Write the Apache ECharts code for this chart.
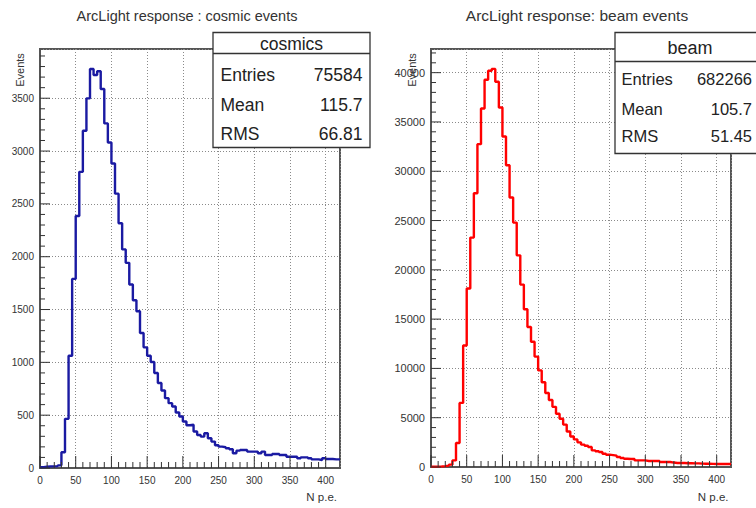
<!DOCTYPE html>
<html>
<head>
<meta charset="utf-8">
<script src="https://cdn.jsdelivr.net/npm/echarts@6/dist/echarts.min.js"></script>
<style>
  html, body { margin: 0; padding: 0; background: #fff; }
  #chart { width: 756px; height: 508px; }
</style>
</head>
<body>
<div id="chart"></div>
<script>
// Histogram binning (N p.e.)
const binWidth = 5;
const xMax = 420;

// Bin contents, 5 p.e. per bin starting at 0
const cosmicCounts = [
  8, 12, 15, 15, 18, 25, 149, 465, 1063, 1790,
  2385, 2803, 3192, 3499, 3777, 3720, 3755, 3587, 3262, 3081,
  2882, 2597, 2316, 2069, 1942, 1737, 1588, 1484, 1278, 1142,
  1063, 1003, 899, 804, 734, 661, 614, 582, 525, 487,
  440, 405, 410, 345, 313, 297, 329, 282, 250, 215,
  202, 196, 187, 177, 139, 164, 171, 171, 155, 155,
  155, 139, 155, 123, 123, 133, 133, 123, 123, 107,
  107, 107, 92, 101, 101, 92, 82, 82, 76, 92,
  85, 85, 82, 82
];
const beamCounts = [
  30, 40, 60, 90, 140, 240, 670, 2440, 6500, 12320,
  18100, 23270, 27770, 32750, 36370, 39280, 40200, 40380, 39080, 36470,
  33530, 30610, 27330, 24790, 21470, 18500, 16000, 14200, 12700, 11200,
  9800, 8600, 7500, 6800, 6100, 5400, 4900, 4300, 3600, 3100,
  2800, 2500, 2270, 2150, 2030, 1690, 1600, 1520, 1350, 1250,
  1200, 1150, 1020, 920, 840, 810, 810, 670, 670, 670,
  610, 610, 610, 610, 510, 510, 510, 450, 400, 400,
  400, 380, 380, 370, 370, 340, 335, 330, 320, 300,
  300, 300, 300, 300
];

// Axis ranges and tick spacing
const cosmicYMax = 3966;
const beamYMax = 42400;
const xMajor = 50, xMinor = 10;
const cosmicYMajor = 500, cosmicYMinor = 100;
const beamYMajor = 5000, beamYMinor = 1000;

// Text
const titles = ['ArcLight response : cosmic events', 'ArcLight response: beam events'];
const statNames = ['cosmics', 'beam'];
const statLabels = ['Entries', 'Mean', 'RMS'];
const cosmicStatValues = ['75584', '115.7', '66.81'];
const beamStatValues = ['682266', '105.7', '51.45'];
const yTitle = 'Events';
const xTitle = 'N p.e.';

const FONT = 'Liberation Sans, Arial, Helvetica, sans-serif';
const TEXT = '#333';
const FRAME = '#555';
const TICK = '#333';

// Left-edge points of each bin plus the closing edge, drawn as a step line
function binEdges(counts) {
  const pts = counts.map((v, i) => [i * binWidth, v]);
  pts.push([counts.length * binWidth, counts[counts.length - 1]]);
  return pts;
}

// Tick values from 0 up to the axis maximum
function tickValues(step, max) {
  const out = [];
  for (let v = 0; v <= max + 1e-9; v += step) out.push(v);
  return out;
}

const plainNumber = v => String(v);

const gridBox = [
  { left: 40, top: 49, width: 300, height: 419 },
  { left: 431, top: 49, width: 300, height: 418 }
];

function xAxisFor(gi) {
  return {
    gridIndex: gi, type: 'value', position: 'bottom', min: 0, max: xMax, interval: xMajor,
    axisLine: { show: true, lineStyle: { color: FRAME, width: 2 } },
    axisTick: { show: false },
    axisLabel: { margin: 7, fontSize: 10, color: TEXT, fontFamily: FONT, showMaxLabel: false,
                 formatter: plainNumber },
    splitLine: { show: true, lineStyle: { color: '#8a8a8a', width: 1, type: [1, 2] } }
  };
}

function yAxisFor(gi, yMax, major, labelSize) {
  return {
    gridIndex: gi, type: 'value', position: 'left', min: 0, max: yMax, interval: major,
    axisLine: { show: true, lineStyle: { color: FRAME, width: 2 } },
    axisTick: { show: false },
    axisLabel: { margin: 6, fontSize: labelSize, color: TEXT, fontFamily: FONT, showMaxLabel: false,
                 formatter: plainNumber },
    splitLine: { show: true, lineStyle: { color: '#8a8a8a', width: 1, type: [1, 2] } }
  };
}

// Inside tick marks along the bottom axis, placed through the x scale
function xTickSeries(gi) {
  return {
    type: 'custom', xAxisIndex: gi, yAxisIndex: gi, z: 20, silent: true, clip: false,
    data: tickValues(xMinor, 400).map(v => [v, 0]),
    renderItem: function (params, api) {
      const v = api.value(0);
      const p = api.coord([v, 0]);
      const len = (v % xMajor === 0) ? 12 : 6;
      return { type: 'line', shape: { x1: p[0], y1: p[1], x2: p[0], y2: p[1] - len },
               style: { stroke: TICK, lineWidth: 1 } };
    }
  };
}

// Inside tick marks along the left axis, placed through the y scale
function yTickSeries(gi, yMax, major, minor) {
  return {
    type: 'custom', xAxisIndex: gi, yAxisIndex: gi, z: 20, silent: true, clip: false,
    data: tickValues(minor, yMax).map(v => [0, v]),
    renderItem: function (params, api) {
      const v = api.value(1);
      const p = api.coord([0, v]);
      const len = (v % major === 0) ? 10 : 5;
      return { type: 'line', shape: { x1: p[0], y1: p[1], x2: p[0] + len, y2: p[1] },
               style: { stroke: TICK, lineWidth: 1 } };
    }
  };
}

function statsBox(x, y, w, h, headerH, name, values, headSize, rowSize, rowYs, labelX, valueX) {
  const els = [
    { type: 'rect', z: 100, shape: { x: x, y: y, width: w, height: h },
      style: { fill: '#fff', stroke: '#333', lineWidth: 1.3 } },
    { type: 'line', z: 101, shape: { x1: x, y1: y + headerH, x2: x + w, y2: y + headerH },
      style: { stroke: '#333', lineWidth: 1.3 } },
    { type: 'text', z: 102, x: x + w / 2, y: y + headerH / 2 + 1,
      style: { text: name, fill: '#222', font: headSize + 'px ' + FONT,
               align: 'center', verticalAlign: 'middle', textAlign: 'center', textVerticalAlign: 'middle' } }
  ];
  statLabels.forEach((lab, i) => {
    els.push({ type: 'text', z: 102, x: labelX, y: rowYs[i],
      style: { text: lab, fill: '#222', font: rowSize + 'px ' + FONT,
               align: 'left', verticalAlign: 'middle', textAlign: 'left', textVerticalAlign: 'middle' } });
    els.push({ type: 'text', z: 102, x: valueX, y: rowYs[i],
      style: { text: values[i], fill: '#222', font: rowSize + 'px ' + FONT,
               align: 'right', verticalAlign: 'middle', textAlign: 'right', textVerticalAlign: 'middle' } });
  });
  return els;
}

function plainText(x, y, text, size, align, rotation) {
  return { type: 'text', z: 50, x: x, y: y, rotation: rotation || 0,
    style: { text: text, fill: TEXT, font: size + 'px ' + FONT,
             align: align, verticalAlign: 'middle', textAlign: align, textVerticalAlign: 'middle' } };
}

const chart = echarts.init(document.getElementById('chart'), null, { renderer: 'svg' });

chart.setOption({
  animation: false,
  backgroundColor: '#fff',
  textStyle: { fontFamily: FONT },
  title: [
    { text: titles[0], left: 182, top: 3, textAlign: 'center',
      textStyle: { fontSize: 14.5, fontWeight: 'normal', color: TEXT, fontFamily: FONT } },
    { text: titles[1], left: 572, top: 2, textAlign: 'center',
      textStyle: { fontSize: 15.5, fontWeight: 'normal', color: TEXT, fontFamily: FONT } }
  ],
  grid: gridBox.map(g => Object.assign({
    show: true, borderColor: FRAME, borderWidth: 2, backgroundColor: 'transparent',
    containLabel: false, outerBoundsMode: 'none'
  }, g)),
  xAxis: [xAxisFor(0), xAxisFor(1)],
  yAxis: [yAxisFor(0, cosmicYMax, cosmicYMajor, 10), yAxisFor(1, beamYMax, beamYMajor, 11)],
  series: [
    xTickSeries(0), yTickSeries(0, cosmicYMax, cosmicYMajor, cosmicYMinor),
    xTickSeries(1), yTickSeries(1, beamYMax, beamYMajor, beamYMinor),
    { name: statNames[0], type: 'line', xAxisIndex: 0, yAxisIndex: 0, step: 'end',
      showSymbol: false, symbol: 'none', clip: false, z: 10,
      lineStyle: { color: '#1a1aa2', width: 2.4 }, data: binEdges(cosmicCounts) },
    { name: statNames[1], type: 'line', xAxisIndex: 1, yAxisIndex: 1, step: 'end',
      showSymbol: false, symbol: 'none', clip: false, z: 10,
      lineStyle: { color: '#ff0000', width: 2.4 }, data: binEdges(beamCounts) }
  ],
  graphic: [
    plainText(19.5, 70, yTitle, 11, 'center', Math.PI / 2),
    plainText(411.5, 70, yTitle, 11, 'center', Math.PI / 2),
    plainText(337, 497, xTitle, 11.5, 'right'),
    plainText(728.5, 497, xTitle, 11.5, 'right')
  ].concat(
    statsBox(213, 32.5, 157, 115, 21, statNames[0], cosmicStatValues, 17.5, 17.5,
             [75, 105, 133.5], 220.5, 362.5),
    statsBox(615, 32.5, 150, 121, 29, statNames[1], beamStatValues, 18, 16.5,
             [78.5, 109, 135.5], 621.5, 752)
  )
});
</script>
</body>
</html>
